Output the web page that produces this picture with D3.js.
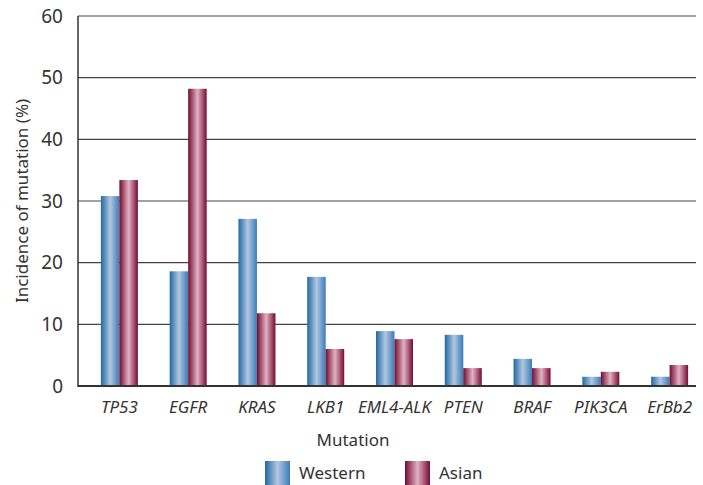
<!DOCTYPE html>
<html>
<head>
<meta charset="utf-8">
<script src="https://cdn.jsdelivr.net/npm/d3@7"></script>
<style>
  body { margin: 0; background: #fff; }
  text { font-family: "Noto Sans", "Open Sans", sans-serif; fill: #333; }
</style>
</head>
<body>
<div id="chart"></div>
<script>
const mutations = ["TP53", "EGFR", "KRAS", "LKB1", "EML4-ALK", "PTEN", "BRAF", "PIK3CA", "ErBb2"];
const western = [30.8, 18.6, 27.1, 17.7, 8.9, 8.3, 4.4, 1.5, 1.5];
const asian = [33.4, 48.2, 11.8, 6.0, 7.6, 2.9, 2.9, 2.3, 3.4];
const seriesNames = ["Western", "Asian"];
const yTicks = [0, 10, 20, 30, 40, 50, 60];

const width = 703, height = 485;
const plot = { left: 78, right: 696, top: 16, bottom: 386 };

const svg = d3.select("#chart").append("svg")
    .attr("width", width)
    .attr("height", height);

// gradients for the glossy bars
const defs = svg.append("defs");
const gradStops = {
    Western: [["0%", "#1f69a3"], ["50%", "#b3c6e2"], ["100%", "#3a7db8"]],
    Asian: [["0%", "#730a30"], ["50%", "#e2b2c2"], ["100%", "#760b33"]]
};
seriesNames.forEach(name => {
    const g = defs.append("linearGradient")
        .attr("id", "grad-" + name)
        .attr("x1", "0%").attr("x2", "100%")
        .attr("y1", "0%").attr("y2", "0%");
    gradStops[name].forEach(s => g.append("stop").attr("offset", s[0]).attr("stop-color", s[1]));
});

const x = d3.scaleBand().domain(mutations).range([85, 704]).paddingInner(0).paddingOuter(0);
const xSub = d3.scaleBand().domain(seriesNames).range([-18.5, 18.5]);
const y = d3.scaleLinear().domain([0, 60]).range([plot.bottom, plot.top]);

// gridlines
svg.append("g")
    .selectAll("line")
    .data(yTicks.filter(d => d > 0))
    .join("line")
    .attr("x1", plot.left).attr("x2", plot.right)
    .attr("y1", d => y(d)).attr("y2", d => y(d))
    .attr("stroke", "#444")
    .attr("stroke-width", 1.2);

// y tick labels
svg.append("g")
    .selectAll("text")
    .data(yTicks)
    .join("text")
    .attr("x", 63)
    .attr("y", d => y(d))
    .attr("dy", "0.35em")
    .attr("text-anchor", "end")
    .style("font-size", "19px")
    .text(d => d);

// bars
const rows = mutations.map((m, i) => ({ m, vals: [western[i], asian[i]] }));
const groups = svg.append("g")
    .selectAll("g")
    .data(rows)
    .join("g")
    .attr("transform", d => `translate(${x(d.m) + x.bandwidth() / 2},0)`);

groups.selectAll("rect")
    .data(d => seriesNames.map((s, j) => ({ s, v: d.vals[j] })))
    .join("rect")
    .attr("x", d => xSub(d.s))
    .attr("width", xSub.bandwidth())
    .attr("y", d => y(d.v))
    .attr("height", d => y(0) - y(d.v))
    .attr("fill", d => `url(#grad-${d.s})`);

// axes lines
svg.append("line")
    .attr("x1", plot.left).attr("x2", plot.left)
    .attr("y1", plot.top).attr("y2", plot.bottom + 1)
    .attr("stroke", "#333").attr("stroke-width", 1.5);
svg.append("line")
    .attr("x1", plot.left).attr("x2", plot.right)
    .attr("y1", plot.bottom).attr("y2", plot.bottom)
    .attr("stroke", "#333").attr("stroke-width", 2);

// x tick labels
svg.append("g")
    .selectAll("text")
    .data(mutations)
    .join("text")
    .attr("x", d => x(d) + x.bandwidth() / 2)
    .attr("y", 413)
    .attr("text-anchor", "middle")
    .style("font-size", "17px")
    .style("font-style", "italic")
    .text(d => d);

// axis titles
svg.append("text")
    .attr("x", 353)
    .attr("y", 446)
    .attr("text-anchor", "middle")
    .style("font-size", "17px")
    .text("Mutation");

svg.append("text")
    .attr("transform", `translate(28,${(plot.top + plot.bottom) / 2}) rotate(-90)`)
    .attr("text-anchor", "middle")
    .style("font-size", "17px")
    .text("Incidence of mutation (%)");

// legend
const legendX = [265, 405];
const legend = svg.append("g")
    .selectAll("g")
    .data(seriesNames)
    .join("g")
    .attr("transform", (d, i) => `translate(${legendX[i]},461)`);
legend.append("rect")
    .attr("width", 25).attr("height", 24)
    .attr("fill", d => `url(#grad-${d})`);
legend.append("text")
    .attr("x", 34)
    .attr("y", 18)
    .style("font-size", "17px")
    .text(d => d);
</script>
</body>
</html>
